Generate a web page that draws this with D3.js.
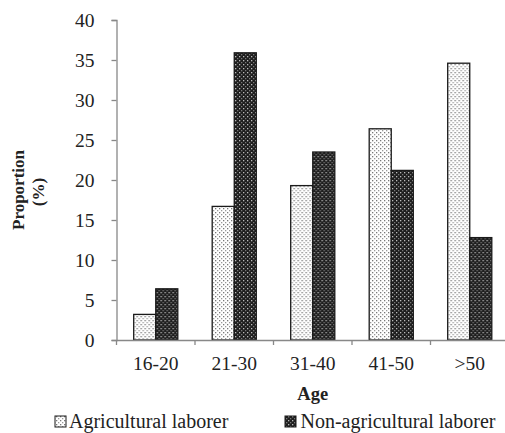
<!DOCTYPE html>
<html>
<head>
<meta charset="utf-8">
<script src="https://cdn.jsdelivr.net/npm/d3@7"></script>
<style>
  html, body { margin: 0; padding: 0; background: #fff; }
  svg { display: block; font-family: "Liberation Serif", "Times New Roman", serif; }
  svg text { font-family: "Liberation Serif", "Times New Roman", serif; }
</style>
</head>
<body>
<svg id="chart" width="505" height="433"></svg>
<script>
const categories = ["16-20", "21-30", "31-40", "41-50", ">50"];
const seriesNames = ["Agricultural laborer", "Non-agricultural laborer"];
const agricultural = [3.2, 16.7, 19.3, 26.4, 34.6];
const nonAgricultural = [6.4, 35.9, 23.5, 21.2, 12.8];
const yTicks = [0, 5, 10, 15, 20, 25, 30, 35, 40];

const svg = d3.select("#chart");
const margin = { left: 116.5, top: 20, bottom: 93 };
const bandW = 78.5;
const width = bandW * categories.length;
const height = 433 - margin.top - margin.bottom;
const serif = "'Liberation Serif', 'Times New Roman', serif";

// dotted fills
const defs = svg.append("defs");
const pLight = defs.append("pattern").attr("id", "dotsLight")
  .attr("width", 4).attr("height", 4).attr("patternUnits", "userSpaceOnUse");
pLight.append("rect").attr("width", 4).attr("height", 4).attr("fill", "#fff");
pLight.append("rect").attr("x", 0).attr("y", 0).attr("width", 1.3).attr("height", 1.3).attr("fill", "#777");
pLight.append("rect").attr("x", 2).attr("y", 2).attr("width", 1.3).attr("height", 1.3).attr("fill", "#999");

const pDark = defs.append("pattern").attr("id", "dotsDark")
  .attr("width", 4).attr("height", 4).attr("patternUnits", "userSpaceOnUse");
pDark.append("rect").attr("width", 4).attr("height", 4).attr("fill", "#1e1e1e");
pDark.append("rect").attr("x", 0).attr("y", 0).attr("width", 1.3).attr("height", 1.3).attr("fill", "#bbb");
pDark.append("rect").attr("x", 2).attr("y", 2).attr("width", 1.3).attr("height", 1.3).attr("fill", "#777");

const g = svg.append("g").attr("transform", `translate(${margin.left},${margin.top})`);

const x = d3.scaleBand().domain(categories).range([0, width]).paddingInner(0).paddingOuter(0);
const xs = d3.scaleBand().domain(seriesNames).range([17.2, bandW - 17.2]);
const y = d3.scaleLinear().domain([0, 40]).range([height, 0]);

// bars
const fills = ["url(#dotsLight)", "url(#dotsDark)"];
const data = categories.map((c, i) => ({ c, vals: [agricultural[i], nonAgricultural[i]] }));
const grp = g.selectAll(".grp").data(data).join("g")
  .attr("transform", d => `translate(${x(d.c)},0)`);
grp.selectAll("rect").data(d => d.vals.map((v, k) => ({ v, k }))).join("rect")
  .attr("x", d => xs(seriesNames[d.k]))
  .attr("width", xs.bandwidth())
  .attr("y", d => y(d.v))
  .attr("height", d => y(0) - y(d.v))
  .attr("fill", d => fills[d.k])
  .attr("stroke", "#1a1a1a")
  .attr("stroke-width", 1.3);

// y axis
const yAxis = g.append("g")
  .call(d3.axisLeft(y).tickValues(yTicks).tickSize(5).tickPadding(17));
yAxis.attr("font-family", serif);
yAxis.select(".domain").attr("stroke", "#888").attr("stroke-width", 1.3);
yAxis.selectAll(".tick line").attr("stroke", "#888").attr("stroke-width", 1.3);
yAxis.selectAll("text").attr("font-size", 19.5).attr("fill", "#222");

// x axis
const xAxis = g.append("g").attr("transform", `translate(0,${height})`)
  .call(d3.axisBottom(x).tickSize(0).tickPadding(16));
xAxis.attr("font-family", serif);
xAxis.select(".domain").attr("stroke", "#888").attr("stroke-width", 1.3);
xAxis.selectAll("text").attr("font-size", 19.5).attr("fill", "#222");
// category boundary ticks
g.append("g").selectAll("line").data(categories).join("line")
  .attr("x1", d => x(d)).attr("x2", d => x(d))
  .attr("y1", height).attr("y2", height + 5)
  .attr("stroke", "#888").attr("stroke-width", 1.3);

// axis titles
svg.append("text")
  .attr("transform", "translate(24,190) rotate(-90)")
  .attr("text-anchor", "middle")
  .attr("font-weight", "bold").attr("font-size", 17).attr("fill", "#222")
  .text("Proportion");
svg.append("text")
  .attr("transform", "translate(44,192) rotate(-90)")
  .attr("text-anchor", "middle")
  .attr("font-weight", "bold").attr("font-size", 17).attr("fill", "#222")
  .text("(%)");
svg.append("text")
  .attr("x", margin.left + width / 2).attr("y", 399.5)
  .attr("text-anchor", "middle")
  .attr("font-weight", "bold").attr("font-size", 18.5).attr("fill", "#222")
  .text("Age");

// legend
const legendSwatchX = [55, 285];
const legendTextX = [69, 300.5];
const leg = svg.append("g").selectAll("g").data(seriesNames).join("g");
leg.append("rect")
  .attr("x", (d, i) => legendSwatchX[i]).attr("y", 416)
  .attr("width", 11).attr("height", 11)
  .attr("fill", (d, i) => fills[i]).attr("stroke", "#1a1a1a").attr("stroke-width", 1);
leg.append("text")
  .attr("x", (d, i) => legendTextX[i]).attr("y", 427.5)
  .attr("font-size", 20).attr("fill", "#222")
  .text(d => d);
</script>
</body>
</html>
